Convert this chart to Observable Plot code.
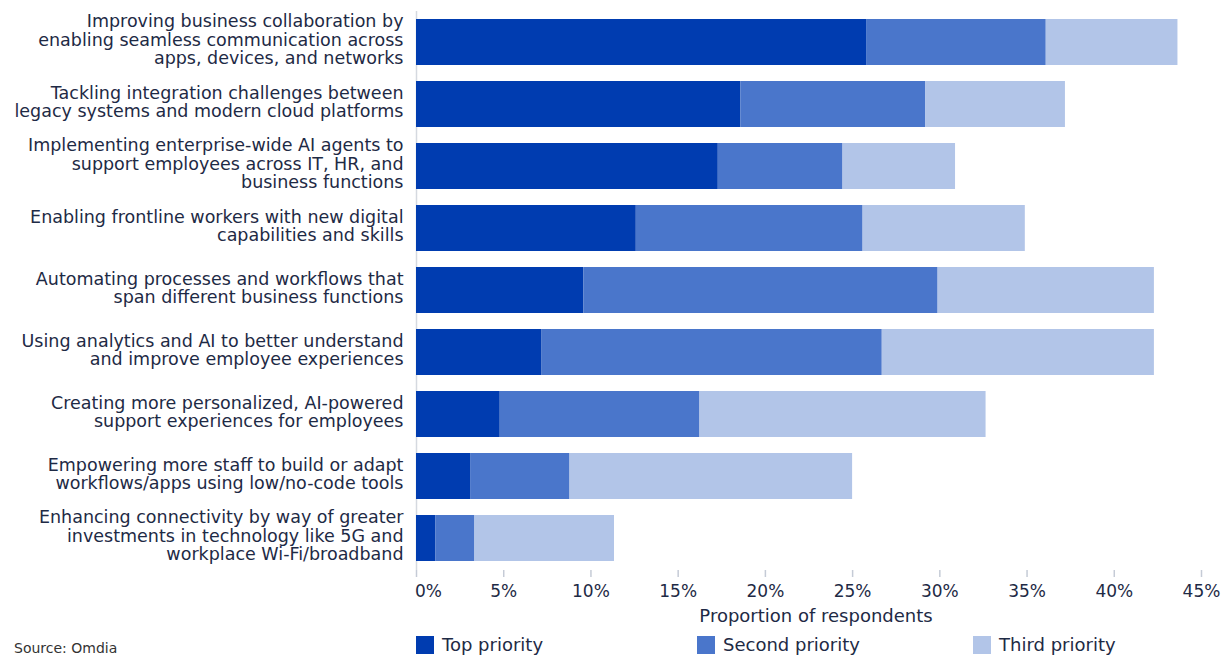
<!DOCTYPE html>
<html>
<head>
<meta charset="utf-8">
<script src="https://cdn.jsdelivr.net/npm/d3@7"></script>
<script src="https://cdn.jsdelivr.net/npm/@observablehq/plot@0.6"></script>
<style>
  html, body { margin: 0; padding: 0; background: #fff; }
  #wrap { position: relative; width: 1227px; height: 656px; overflow: hidden; font-family: "DejaVu Sans", sans-serif; color: #1e2a45; }
  #chart { position: absolute; left: 0; top: 0; }
  .legend { position: absolute; top: 635px; height: 20px; line-height: 20px; display: flex; align-items: center; font-size: 18px; }
  .legend .sw { width: 18px; height: 18px; margin-right: 8px; }
  #source { position: absolute; left: 14px; top: 641px; font-size: 14px; line-height: 15px; color: #333; }
</style>
</head>
<body>
<div id="wrap">
  <div id="chart"></div>
  <div id="legend"></div>
  <div id="source"></div>
</div>
<script>
const categories = [
  "Improving business collaboration by\nenabling seamless communication across\napps, devices, and networks",
  "Tackling integration challenges between\nlegacy systems and modern cloud platforms",
  "Implementing enterprise-wide AI agents to\nsupport employees across IT, HR, and\nbusiness functions",
  "Enabling frontline workers with new digital\ncapabilities and skills",
  "Automating processes and workflows that\nspan different business functions",
  "Using analytics and AI to better understand\nand improve employee experiences",
  "Creating more personalized, AI-powered\nsupport experiences for employees",
  "Empowering more staff to build or adapt\nworkflows/apps using low/no-code tools",
  "Enhancing connectivity by way of greater\ninvestments in technology like 5G and\nworkplace Wi-Fi/broadband"
];
const priorities = ["Top priority", "Second priority", "Third priority"];
const topPriority    = [25.8, 18.6, 17.3, 12.6, 9.6, 7.2, 4.8, 3.1, 1.1];
const secondPriority = [10.3, 10.6, 7.15, 13.0, 20.3, 19.5, 11.45, 5.7, 2.25];
const thirdPriority  = [7.55, 8.0, 6.45, 9.3, 12.4, 15.6, 16.4, 16.2, 8.0];
const colors = ["#003cb0", "#4a76cb", "#b2c5e8"];
const xTicks = [0, 5, 10, 15, 20, 25, 30, 35, 40, 45];
const xLabel = "Proportion of respondents";
const sourceText = "Source: Omdia";

const series = [topPriority, secondPriority, thirdPriority];
const data = [];
categories.forEach((c, i) => {
  priorities.forEach((p, j) => data.push({category: c, priority: p, value: series[j][i]}));
});

const textColor = "#1e2a45";
const fmt = d => d + "%";

const chart = Plot.plot({
  width: 1227,
  height: 630,
  marginLeft: 416,
  marginRight: 26,
  marginTop: 3,
  marginBottom: 60,
  style: {fontFamily: "DejaVu Sans, sans-serif", color: textColor, background: "white"},
  x: {domain: [0, 45]},
  y: {domain: categories, range: [3, 577], padding: 0.258},
  color: {domain: priorities, range: colors},
  marks: [
    Plot.ruleX([0], {stroke: "#d5d9e0", strokeWidth: 1.5, insetTop: 8}),
    Plot.barX(data, {y: "category", x: "value", fill: "priority"}),
    Plot.axisY({tickSize: 0, tickPadding: 13, dy: -2.5, fontSize: 17.5, lineHeight: 1.06, fill: textColor, label: null}),
    Plot.axisX(xTicks, {
      tickSize: 7, stroke: "#c5cbd6", strokeWidth: 1.5, tickPadding: 7, fontSize: 17, fill: textColor,
      tickFormat: d => d === 0 ? "" : fmt(d),
      label: xLabel, labelAnchor: "center", labelArrow: "none", labelOffset: 51
    }),
    Plot.axisX([0], {tickSize: 0, tickPadding: 14, fontSize: 17, fill: textColor, dx: 12, tickFormat: fmt, label: null})
  ]
});
document.getElementById("chart").appendChild(chart);
// Axis title slightly larger than tick labels and a touch right, as in the reference
chart.querySelectorAll("g[aria-label='x-axis label'] text").forEach(t => {
  t.setAttribute("font-size", "18");
  const tr = t.getAttribute("transform") || "";
  t.setAttribute("transform", tr + " translate(7,0)");
});

const legendLefts = [416, 697, 973];
const legendEl = document.getElementById("legend");
priorities.forEach((p, i) => {
  const item = document.createElement("div");
  item.className = "legend";
  item.style.left = legendLefts[i] + "px";
  const sw = document.createElement("div");
  sw.className = "sw";
  sw.style.background = colors[i];
  const t = document.createElement("span");
  t.textContent = p;
  item.appendChild(sw);
  item.appendChild(t);
  legendEl.appendChild(item);
});
document.getElementById("source").textContent = sourceText;
</script>
</body>
</html>
